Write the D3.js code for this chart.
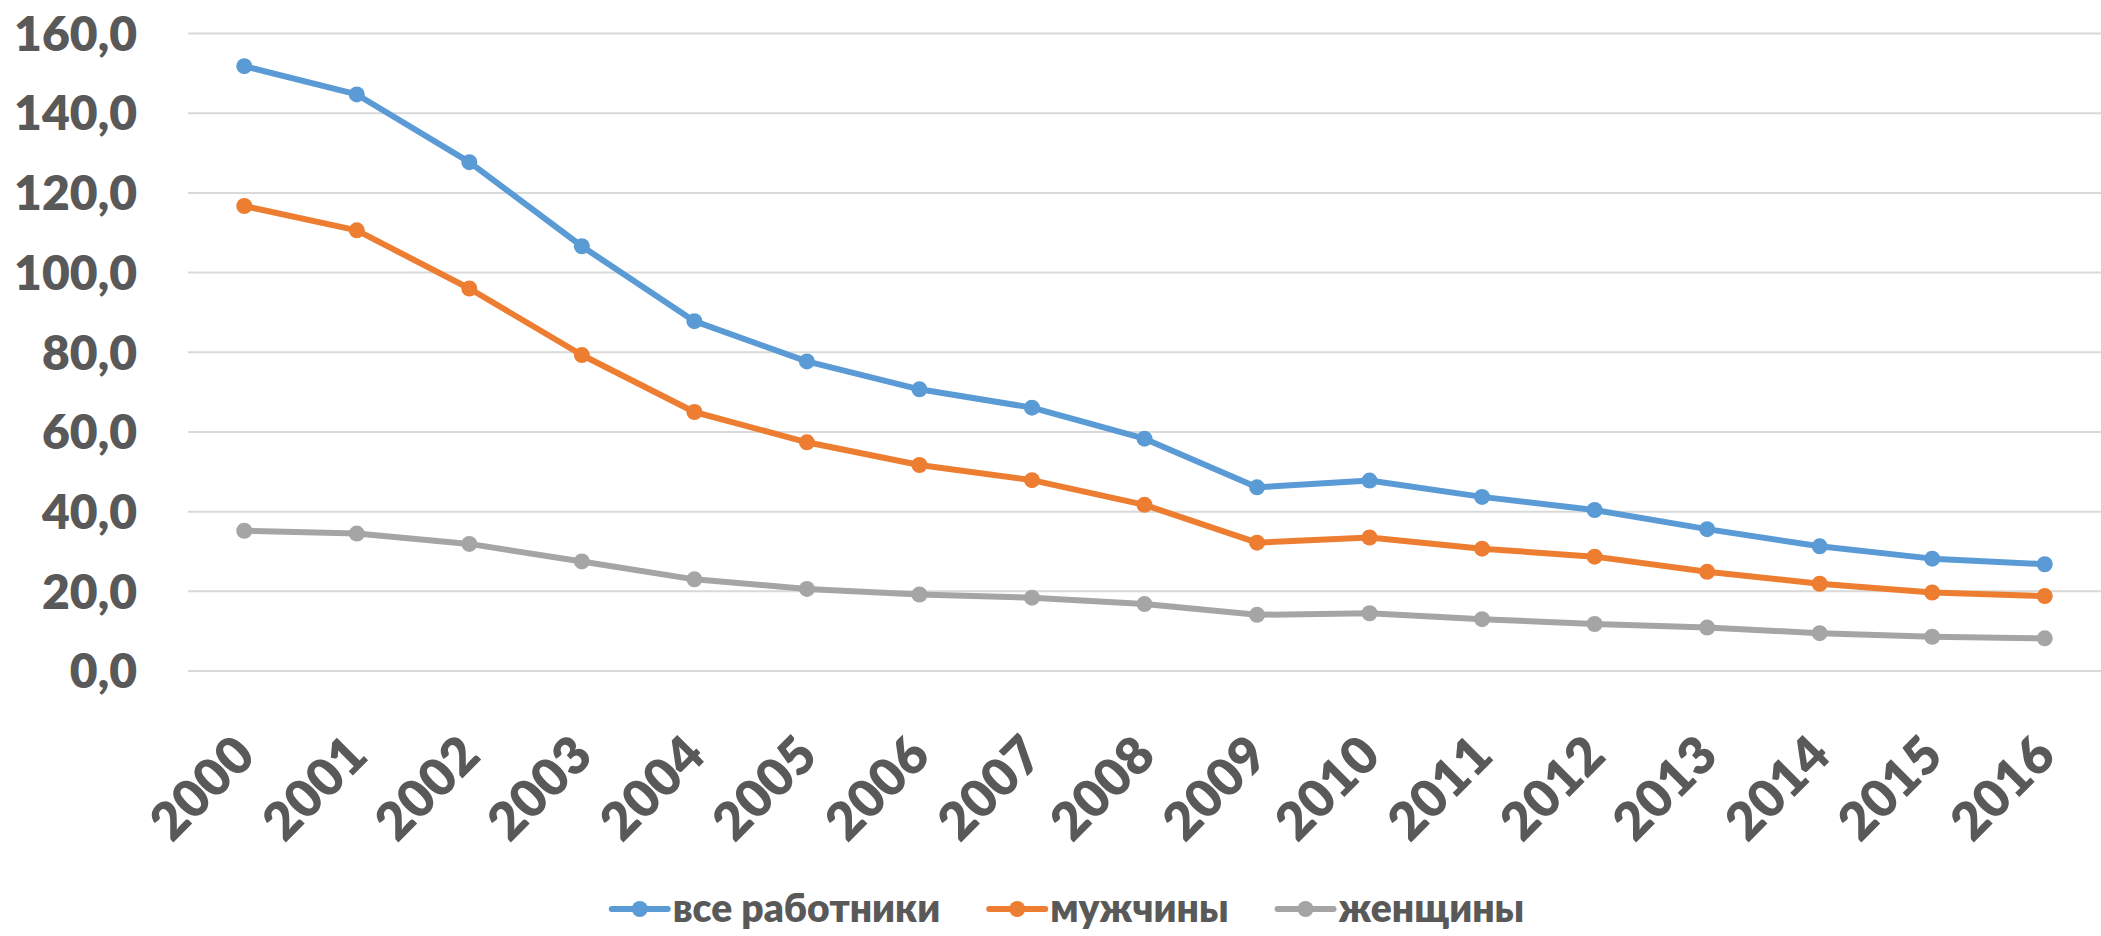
<!DOCTYPE html>
<html>
<head>
<meta charset="utf-8">
<script src="https://cdn.jsdelivr.net/npm/d3@7/dist/d3.min.js"></script>
<style>
	body { margin: 0; background: #fff; }
	svg text { font-family: Lato, "Open Sans", sans-serif; font-weight: 800; fill: #595959; }
</style>
</head>
<body>
<svg id="chart" width="2101" height="936"></svg>
<script>
var years = ["2000", "2001", "2002", "2003", "2004", "2005", "2006", "2007", "2008",
	"2009", "2010", "2011", "2012", "2013", "2014", "2015", "2016"];
var allWorkers = [151.8, 144.7, 127.7, 106.6, 87.8, 77.7, 70.7, 66.1, 58.3,
	46.1, 47.8, 43.7, 40.4, 35.6, 31.3, 28.2, 26.8];
var men = [116.7, 110.6, 96.0, 79.3, 65.0, 57.4, 51.7, 47.9, 41.7,
	32.2, 33.5, 30.7, 28.7, 24.9, 21.9, 19.7, 18.8];
var women = [35.2, 34.5, 31.9, 27.5, 23.0, 20.6, 19.2, 18.4, 16.8,
	14.1, 14.5, 13.0, 11.8, 10.9, 9.5, 8.6, 8.2];
var yTicks = [0, 20, 40, 60, 80, 100, 120, 140, 160];

var seriesNames = ["все работники", "мужчины", "женщины"];
var seriesColors = ["#5B9BD5", "#ED7D31", "#A5A5A5"];
var seriesValues = [allWorkers, men, women];

function draw() {
	var svg = d3.select("#chart");
	var left = 188, right = 2101, top = 33.5, bottom = 671;

	var x = d3.scaleBand().domain(years).range([left, right]);
	var y = d3.scaleLinear().domain([0, 160]).range([bottom, top]);

	// gridlines
	svg.selectAll("line.grid")
		.data(yTicks)
		.enter()
		.append("line")
		.attr("class", "grid")
		.attr("x1", left)
		.attr("x2", right)
		.attr("y1", function(d) { return y(d); })
		.attr("y2", function(d) { return y(d); })
		.attr("stroke", "#D9D9D9")
		.attr("stroke-width", 2);

	// y labels
	svg.selectAll("text.ylabel")
		.data(yTicks)
		.enter()
		.append("text")
		.attr("class", "ylabel")
		.attr("x", 137)
		.attr("y", function(d) { return y(d); })
		.attr("dy", "0.36em")
		.attr("text-anchor", "end")
		.style("font-size", "48px")
		.text(function(d) { return d3.format(".1f")(d).replace(".", ","); });

	// x labels, rotated
	svg.selectAll("text.xlabel")
		.data(years)
		.enter()
		.append("text")
		.attr("class", "xlabel")
		.attr("transform", function(d) {
			return "translate(" + (x(d) + x.bandwidth() / 2) + ",745) rotate(-45)";
		})
		.attr("dy", "0.36em")
		.attr("text-anchor", "end")
		.style("font-size", "52px")
		.text(function(d) { return d; });

	var line = d3.line()
		.x(function(d, i) { return x(years[i]) + x.bandwidth() / 2; })
		.y(function(d) { return y(d); });

	for (var ii = 0; ii < seriesValues.length; ++ii) {
		var values = seriesValues[ii];
		svg.append("path")
			.datum(values)
			.attr("d", line)
			.attr("fill", "none")
			.attr("stroke", seriesColors[ii])
			.attr("stroke-width", 6)
			.attr("stroke-linejoin", "round");
		svg.selectAll("circle.s" + ii)
			.data(values)
			.enter()
			.append("circle")
			.attr("class", "s" + ii)
			.attr("cx", function(d, i) { return x(years[i]) + x.bandwidth() / 2; })
			.attr("cy", function(d) { return y(d); })
			.attr("r", 8)
			.attr("fill", seriesColors[ii]);
	}

	drawLegend(svg);
}

function drawLegend(svg) {
	var legend = svg.append("g");
	var pos = 0;
	var legendY = 909;
	for (var ii = 0; ii < seriesNames.length; ++ii) {
		var item = legend.append("g").attr("transform", "translate(" + pos + ",0)");
		item.append("line")
			.attr("x1", 0).attr("x2", 56)
			.attr("y1", legendY).attr("y2", legendY)
			.attr("stroke", seriesColors[ii])
			.attr("stroke-width", 6)
			.attr("stroke-linecap", "round");
		item.append("circle")
			.attr("cx", 28).attr("cy", legendY).attr("r", 8)
			.attr("fill", seriesColors[ii]);
		var label = item.append("text")
			.attr("x", 61)
			.attr("y", legendY)
			.attr("dy", "0.34em")
			.style("font-size", "39px")
			.text(seriesNames[ii]);
		pos += 61 + label.node().getComputedTextLength() + 49;
	}
	var total = pos - 49;
	legend.attr("transform", "translate(" + (1068 - total / 2) + ",0)");
}

draw();
</script>
</body>
</html>
